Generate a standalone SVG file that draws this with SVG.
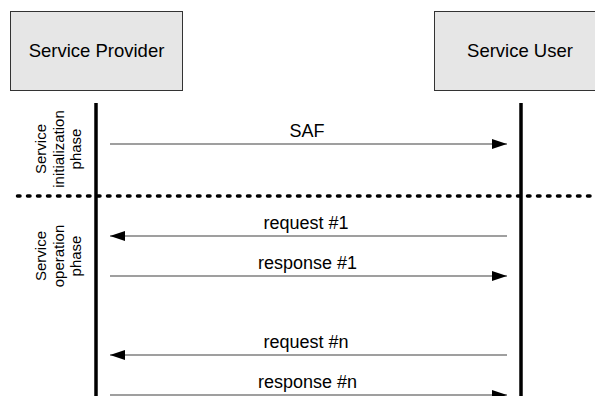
<svg xmlns="http://www.w3.org/2000/svg" width="595" height="396" viewBox="0 0 595 396">
<defs>
<style>
.box{fill:#e6e6e6;stroke:#333;stroke-width:1}
.title{font-family:"Liberation Sans",Arial,sans-serif;font-size:18.5px;fill:#000;text-anchor:middle}
.lbl{font-family:"Liberation Sans",Arial,sans-serif;font-size:18px;fill:#000;text-anchor:middle}
.phase{font-family:"Liberation Sans",Arial,sans-serif;font-size:15px;fill:#000;text-anchor:middle}
.life{stroke:#000;stroke-width:3.5}
.msg{stroke:#404040;stroke-width:1.2;fill:none}
.sep{stroke:#000;stroke-width:3.5;stroke-dasharray:2.5 7.5;stroke-linecap:round}
</style>
<marker id="ah" markerWidth="15" markerHeight="10" refX="15" refY="5" orient="auto" markerUnits="userSpaceOnUse">
<path d="M0,0 L15,5 L0,10 Z" fill="#000"/>
</marker>
</defs>
<rect width="595" height="396" fill="#fff"/>
<g id="provider">
<rect class="box" x="10.5" y="11.5" width="172" height="79"/>
<text class="title" x="96.5" y="57">Service Provider</text>
</g>
<g id="user">
<rect class="box" x="434.5" y="11.5" width="165" height="79"/>
<text class="title" x="520" y="57">Service User</text>
</g>
<g id="lifelines">
<line class="life" x1="96" y1="103" x2="96" y2="396"/>
<line class="life" x1="521" y1="103" x2="521" y2="396"/>
</g>
<g id="separator">
<line class="sep" x1="17.5" y1="196" x2="595" y2="196"/>
</g>
<g id="phase-init">
<text class="phase" transform="translate(0,149) rotate(-90)"><tspan x="0" y="45.5">Service</tspan><tspan x="0" y="63.5">initialization</tspan><tspan x="0" y="81">phase</tspan></text>
</g>
<g id="phase-op">
<text class="phase" transform="translate(0,256) rotate(-90)"><tspan x="0" y="45.5">Service</tspan><tspan x="0" y="63.5">operation</tspan><tspan x="0" y="81">phase</tspan></text>
</g>
<g id="connectors">
<line class="msg" x1="110" y1="144" x2="507" y2="144" marker-end="url(#ah)"/>
<line class="msg" x1="507" y1="236" x2="110" y2="236" marker-end="url(#ah)"/>
<line class="msg" x1="110" y1="276" x2="507" y2="276" marker-end="url(#ah)"/>
<line class="msg" x1="507" y1="355" x2="110" y2="355" marker-end="url(#ah)"/>
<line class="msg" x1="110" y1="395" x2="507" y2="395" marker-end="url(#ah)"/>
</g>
<g id="labels">
<text class="lbl" x="307" y="137">SAF</text>
<text class="lbl" x="306" y="229">request #1</text>
<text class="lbl" x="307.5" y="269">response #1</text>
<text class="lbl" x="306" y="348">request #n</text>
<text class="lbl" x="307.5" y="388">response #n</text>
</g>
</svg>
